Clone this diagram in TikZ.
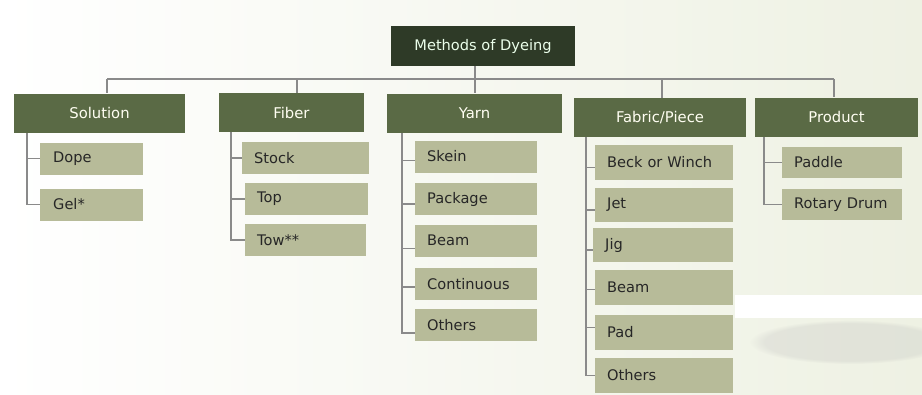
\documentclass[tikz,border=0pt]{standalone}
\usepackage{fontspec}
\setmainfont{DejaVu Sans}
\usetikzlibrary{fadings}
\definecolor{rootc}{HTML}{2E3A27}
\definecolor{catc}{HTML}{5A6A45}
\definecolor{leafc}{HTML}{B7BB99}
\definecolor{linec}{HTML}{8A8A8A}
\definecolor{bgc}{HTML}{EEF1E3}
\tikzset{
  rootbox/.style={fill=rootc, text=white!92!green, font=\fontsize{14.6}{16}\selectfont, minimum width=184pt, minimum height=40pt, inner sep=0pt},
  catbox/.style={fill=catc, text=white!95!yellow, font=\fontsize{14.8}{16}\selectfont, minimum height=39pt, inner sep=0pt},
  leafbox/.style={fill=leafc, text=black!85, font=\fontsize{14.6}{16}\selectfont, anchor=west, align=left, inner xsep=12pt, inner ysep=0pt, minimum height=#1},
  leafbox/.default=32pt,
  conn/.style={draw=linec, line width=1.1pt}
}
\begin{document}
\begin{tikzpicture}[x=1pt,y=-1pt]
\useasboundingbox (0,0) rectangle (922,394);
% background
\shade[left color=white, right color=bgc] (0,0) rectangle (922,394);
\fill[white] (735,295) rectangle (922,318);
\fill[gray!60, path fading=circle with fuzzy edge 15 percent, opacity=0.22] (850,342) ellipse (100pt and 22pt);
% root
\node[rootbox] (root) at (483,46) {Methods of Dyeing};
% categories
\node[catbox, minimum width=171pt] (sol) at (99.5,113) {Solution};
\node[catbox, minimum width=145pt] (fib) at (291.5,112.5) {Fiber};
\node[catbox, minimum width=175pt] (yarn) at (474.5,113) {Yarn};
\node[catbox, minimum width=172pt] (fab) at (660,117.5) {Fabric/Piece};
\node[catbox, minimum width=163pt] (prod) at (836.5,117) {Product};
% bus
\coordinate (bS) at (107,79);
\coordinate (bF) at (297,79);
\coordinate (bY) at (475,79);
\coordinate (bB) at (662,79);
\coordinate (bP) at (834,79);
\draw[conn] (root.south -| bY) -- (bY);
\draw[conn] (bS) -- (bP);
\draw[conn] (bS) -- (bS |- sol.north);
\draw[conn] (bF) -- (bF |- fib.north);
\draw[conn] (bY) -- (bY |- yarn.north);
\draw[conn] (bB) -- (bB |- fab.north);
\draw[conn] (bP) -- (bP |- prod.north);
% Solution leaves
\node[leafbox, text width=77pt, inner xsep=13pt] (dope) at (40,158.5) {Dope};
\node[leafbox, text width=77pt, inner xsep=13pt] (gel) at (40,204.5) {Gel*};
\coordinate (tS) at (27,133);
\draw[conn] (tS) |- (gel.west);
\draw[conn] (tS |- dope.west) -- (dope.west);
% Fiber leaves
\node[leafbox, text width=103pt] (stock) at (242,158) {Stock};
\node[leafbox, text width=99pt] (top) at (245,199) {Top};
\node[leafbox, text width=97pt] (tow) at (245,240) {Tow**};
\coordinate (tF) at (231,132);
\draw[conn] (tF) |- (tow.west);
\draw[conn] (tF |- stock.west) -- (stock.west);
\draw[conn] (tF |- top.west) -- (top.west);
% Yarn leaves
\node[leafbox, text width=98pt] (skein) at (415,156.5) {Skein};
\node[leafbox, text width=98pt] (pack) at (415,199) {Package};
\node[leafbox, text width=98pt] (ybeam) at (415,240.5) {Beam};
\node[leafbox, text width=98pt] (cont) at (415,284) {Continuous};
\node[leafbox, text width=98pt] (yoth) at (415,325) {Others};
\coordinate (tY) at (402,133);
\draw[conn] (tY) |- ([yshift=-8pt]yoth.west);
\draw[conn] ([yshift=-4pt]tY |- skein.west) -- ([yshift=-4pt]skein.west);
\draw[conn] ([yshift=-5pt]tY |- pack.west) -- ([yshift=-5pt]pack.west);
\draw[conn] ([yshift=-8pt]tY |- ybeam.west) -- ([yshift=-8pt]ybeam.west);
\draw[conn] ([yshift=-3pt]tY |- cont.west) -- ([yshift=-3pt]cont.west);
% Fabric leaves
\node[leafbox=35pt, text width=114pt, inner xsep=12pt] (beck) at (595,162.5) {Beck or Winch};
\node[leafbox=34pt, text width=114pt] (jet) at (595,205) {Jet};
\node[leafbox=34pt, text width=116pt] (jig) at (593,245) {Jig};
\node[leafbox=35pt, text width=114pt] (fbeam) at (595,287.5) {Beam};
\node[leafbox=35pt, text width=114pt] (pad) at (595,332.5) {Pad};
\node[leafbox=35pt, text width=114pt] (foth) at (595,375.5) {Others};
\coordinate (tB) at (586,137);
\draw[conn] (tB) |- (foth.west);
\draw[conn] ([yshift=-5pt]tB |- beck.west) -- ([yshift=-5pt]beck.west);
\draw[conn] ([yshift=-5pt]tB |- jet.west) -- ([yshift=-5pt]jet.west);
\draw[conn] ([yshift=-5pt]tB |- jig.west) -- ([yshift=-5pt]jig.west);
\draw[conn] ([yshift=-2pt]tB |- fbeam.west) -- ([yshift=-2pt]fbeam.west);
\draw[conn] ([yshift=5pt]tB |- pad.west) -- ([yshift=5pt]pad.west);
% Product leaves
\node[leafbox=31pt, text width=96pt] (paddle) at (782,162.5) {Paddle};
\node[leafbox=31pt, text width=96pt] (drum) at (782,204.5) {Rotary Drum};
\coordinate (tP) at (764,137);
\draw[conn] (tP) |- (drum.west);
\draw[conn] (tP |- paddle.west) -- (paddle.west);
\end{tikzpicture}
\end{document}
